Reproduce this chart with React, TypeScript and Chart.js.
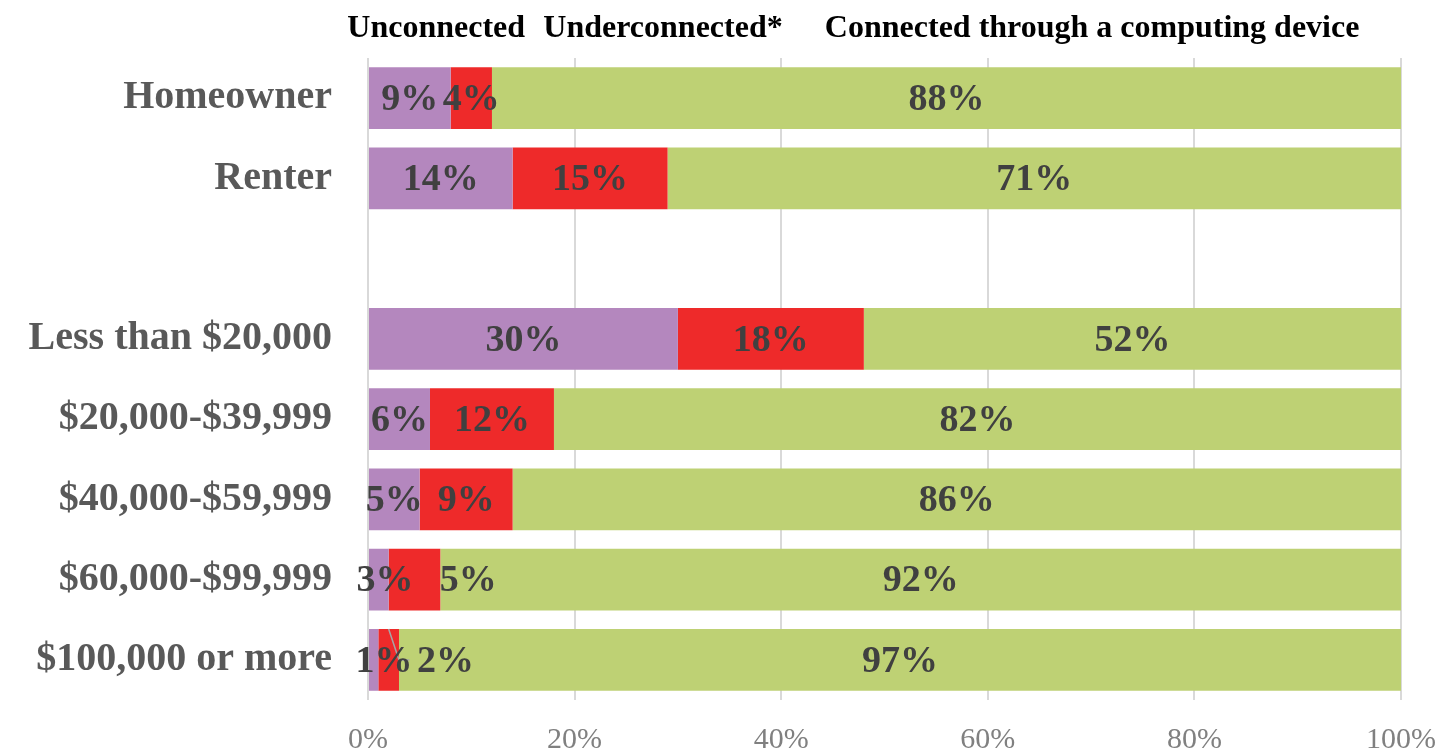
import React, { useEffect, useRef } from "react";
import { Chart, registerables } from "chart.js";

Chart.register(...registerables);

const categories = [
  "Homeowner",
  "Renter",
  "",
  "Less than $20,000",
  "$20,000-$39,999",
  "$40,000-$59,999",
  "$60,000-$99,999",
  "$100,000 or more",
];
const seriesNames = ["Unconnected", "Underconnected*", "Connected through a computing device"];
const unconnected = [8, 14, null, 30, 6, 5, 2, 1];
const underconnected = [4, 15, null, 18, 12, 9, 5, 2];
const connected = [88, 71, null, 52, 82, 86, 93, 97];
const unconnectedLabels = ["9%", "14%", "", "30%", "6%", "5%", "3%", "1%"];
const underconnectedLabels = ["4%", "15%", "", "18%", "12%", "9%", "5%", "2%"];
const connectedLabels = ["88%", "71%", "", "52%", "82%", "86%", "92%", "97%"];
const xTickValues = [0, 20, 40, 60, 80, 100];

const FONT = "'Liberation Serif', 'Times New Roman', serif";

const labelSets = [unconnectedLabels, underconnectedLabels, connectedLabels];
// small nudges (in % units) for labels moved off tiny segments
const labelNudges: Record<string, number> = { "0-6": 0.6, "0-7": 1.0, "1-6": 5.2, "1-7": 5.5 };

const dataLabelPlugin = {
  id: "dataLabels",
  afterDatasetsDraw(chart: any) {
    const { ctx } = chart;
    const xScale = chart.scales.x;
    const unit = xScale.getPixelForValue(1) - xScale.getPixelForValue(0);
    ctx.save();
    const leaderMeta = chart.getDatasetMeta(1);
    const el = leaderMeta.data[7];
    if (el) {
      const top = el.y - el.height / 2;
      ctx.strokeStyle = "#a6a6a6";
      ctx.lineWidth = 1.5;
      ctx.beginPath();
      ctx.moveTo(xScale.getPixelForValue(2), top);
      ctx.lineTo(xScale.getPixelForValue(3), el.y);
      ctx.lineTo(xScale.getPixelForValue(4), el.y);
      ctx.stroke();
    }
    ctx.font = `bold 38px ${FONT}`;
    ctx.fillStyle = "#404040";
    ctx.textAlign = "center";
    ctx.textBaseline = "middle";
    chart.data.datasets.forEach((ds: any, di: number) => {
      const meta = chart.getDatasetMeta(di);
      meta.data.forEach((bar: any, i: number) => {
        const txt = labelSets[di][i];
        if (!txt) return;
        const nudge = labelNudges[`${di}-${i}`] || 0;
        const cx = (bar.x + bar.base) / 2 + nudge * unit;
        ctx.fillText(txt, cx, bar.y + 2);
      });
    });
    ctx.restore();
  },
};

const legendPlugin = {
  id: "textLegend",
  afterDraw(chart: any) {
    const { ctx, chartArea } = chart;
    const w = chartArea.right - chartArea.left;
    const centers = [0.066, 0.2856, 0.701];
    const weights = ["bold", "bold", "600"];
    ctx.save();
    ctx.fillStyle = "#000000";
    ctx.textAlign = "center";
    ctx.textBaseline = "middle";
    seriesNames.forEach((name, i) => {
      ctx.font = `${weights[i]} 32px ${FONT}`;
      ctx.fillText(name, chartArea.left + centers[i] * w, 29);
    });
    ctx.restore();
  },
};

export default function App() {
  const canvasRef = useRef<HTMLCanvasElement | null>(null);

  useEffect(() => {
    if (!canvasRef.current) return;
    const chart = new Chart(canvasRef.current, {
      type: "bar",
      data: {
        labels: categories,
        datasets: [
          { label: seriesNames[0], data: unconnected as any, backgroundColor: "#B487BE" },
          { label: seriesNames[1], data: underconnected as any, backgroundColor: "#EE2A2A" },
          { label: seriesNames[2], data: connected as any, backgroundColor: "#BED174" },
        ],
      },
      options: {
        indexAxis: "y",
        animation: false,
        responsive: false,
        maintainAspectRatio: false,
        layout: { padding: { top: 58, right: 39, left: 0, bottom: 0 } },
        datasets: { bar: { categoryPercentage: 1, barPercentage: 0.77 } },
        plugins: {
          legend: { display: false },
          tooltip: { enabled: false },
        },
        scales: {
          x: {
            stacked: true,
            min: 0,
            max: 100,
            afterBuildTicks: (scale: any) => {
              scale.ticks = xTickValues.map((v) => ({ value: v }));
            },
            afterFit: (scale: any) => {
              scale.height = 50;
            },
            grid: {
              color: "#d9d9d9",
              lineWidth: 2,
              drawTicks: true,
              tickLength: 22,
              tickColor: "rgba(0,0,0,0)",
            },
            border: { display: false },
            ticks: {
              padding: 0,
              color: "#808080",
              font: { family: FONT, size: 30 },
              callback: (v: any) => `${v}%`,
            },
          },
          y: {
            stacked: true,
            afterFit: (scale: any) => {
              scale.width = 368;
            },
            grid: { display: false, drawTicks: true, tickLength: 36 },
            border: { display: false },
            ticks: {
              padding: 0,
              color: "#595959",
              font: { family: FONT, size: 40, weight: "bold" },
            },
          },
        },
      },
      plugins: [dataLabelPlugin, legendPlugin],
    });
    return () => chart.destroy();
  }, []);

  return (
    <div style={{ position: "absolute", left: 0, top: 0, width: 1440, height: 750, background: "#fff" }}>
      <canvas ref={canvasRef} width={1440} height={750} style={{ width: 1440, height: 750 }} />
    </div>
  );
}
